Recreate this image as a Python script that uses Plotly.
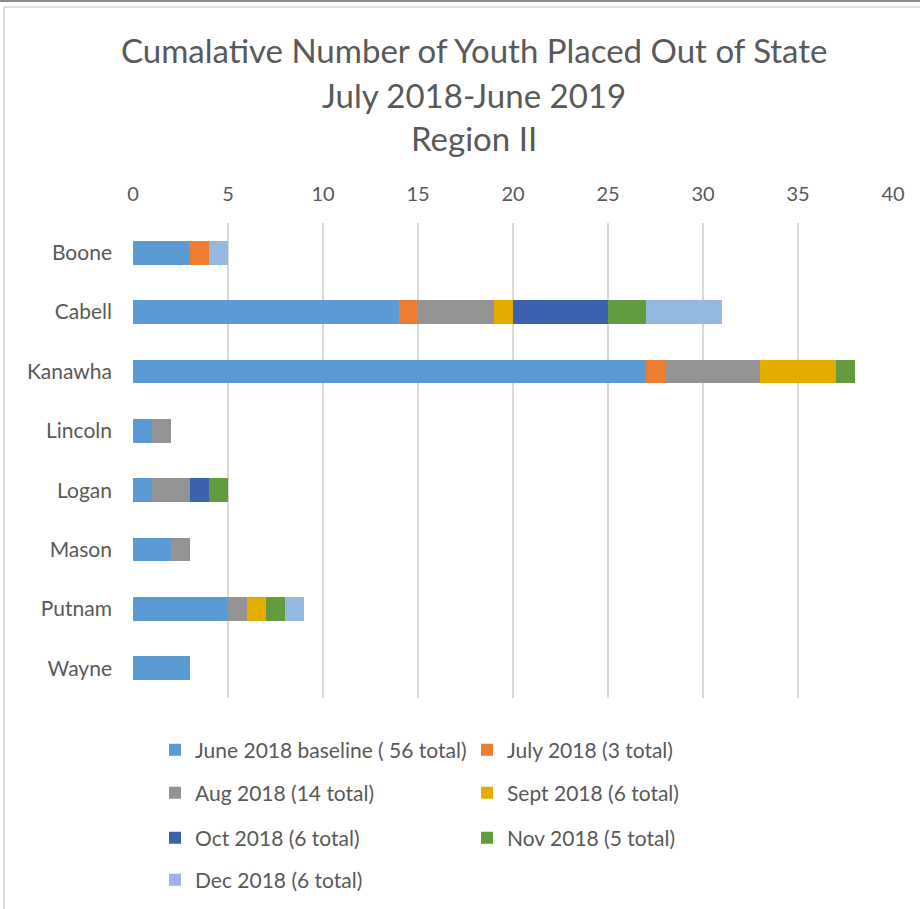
import plotly.graph_objects as go

COUNTIES = ["Boone", "Cabell", "Kanawha", "Lincoln", "Logan", "Mason", "Putnam", "Wayne"]

SERIES_NAMES = [
    "June 2018 baseline ( 56 total)",
    "July 2018 (3 total)",
    "Aug 2018 (14 total)",
    "Sept 2018 (6 total)",
    "Oct 2018 (6 total)",
    "Nov 2018 (5 total)",
    "Dec 2018 (6 total)",
]

JUNE_BASELINE = [3, 14, 27, 1, 1, 2, 5, 3]
JULY = [1, 1, 1, 0, 0, 0, 0, 0]
AUG = [0, 4, 5, 1, 2, 1, 1, 0]
SEPT = [0, 1, 4, 0, 0, 0, 1, 0]
OCT = [0, 5, 0, 0, 1, 0, 0, 0]
NOV = [0, 2, 1, 0, 1, 0, 1, 0]
DEC = [1, 4, 0, 0, 0, 0, 1, 0]

SERIES_VALUES = [JUNE_BASELINE, JULY, AUG, SEPT, OCT, NOV, DEC]
COLORS = ["#5B9BD5", "#ED7D31", "#939393", "#E5AC00", "#3B62AE", "#639B3F", "#95B8E0"]

TITLE_LINES = ["Cumalative Number of Youth Placed Out of State", "July 2018-June 2019", "Region II"]

W, H = 920, 909
L, R, T, B = 133, 27, 223, 211
FONT = "Lato, Open Sans, sans-serif"
TEXT = "#595959"


def px_x(px):
    return (px - L) / (W - L - R)


def px_y(py):
    return (H - B - py) / (H - T - B)


LEGEND_KEYS = ["legend", "legend", "legend2", "legend2", "legend3", "legend3", "legend4"]
LEGEND_ROWS = [750, 793, 838, 880]


def main():
    fig = go.Figure()
    for name, vals, color, lg in zip(SERIES_NAMES, SERIES_VALUES, COLORS, LEGEND_KEYS):
        fig.add_trace(go.Bar(
            y=COUNTIES, x=vals, name=name, orientation="h",
            marker=dict(color=color, line=dict(width=0)),
            legend=lg,
        ))

    for i, line in enumerate(TITLE_LINES):
        fig.add_annotation(
            x=px_x(474), y=px_y([50, 95, 138][i]), xref="paper", yref="paper",
            text=line, showarrow=False, xanchor="center", yanchor="middle",
            font=dict(family=FONT, size=33, color=TEXT),
        )

    legend_style = dict(
        orientation="h", x=px_x(155), xanchor="left", yanchor="middle",
        entrywidth=267, entrywidthmode="pixels",
        font=dict(family=FONT, size=21, color=TEXT),
        bgcolor="rgba(0,0,0,0)", traceorder="normal",
    )
    legends = {}
    for key, row in zip(["legend", "legend2", "legend3", "legend4"], LEGEND_ROWS):
        legends[key] = dict(legend_style, y=px_y(row))

    # thin window frame like the screenshot
    fig.add_shape(type="line", xref="paper", yref="paper",
                  x0=px_x(0), x1=px_x(W), y0=px_y(1), y1=px_y(1),
                  line=dict(color="#8C8C8C", width=2))
    fig.add_shape(type="line", xref="paper", yref="paper",
                  x0=px_x(4), x1=px_x(4), y0=px_y(7), y1=px_y(H),
                  line=dict(color="#D4D4D4", width=1.5))
    fig.add_shape(type="line", xref="paper", yref="paper",
                  x0=px_x(4), x1=px_x(W), y0=px_y(7), y1=px_y(7),
                  line=dict(color="#D4D4D4", width=1.5))

    fig.update_layout(
        width=W, height=H,
        barmode="stack", bargap=0.6,
        plot_bgcolor="white", paper_bgcolor="white",
        margin=dict(l=L, r=R, t=T, b=B, autoexpand=False),
        xaxis=dict(
            side="top", range=[0, 40], dtick=5, tick0=0,
            showgrid=True, gridcolor="#D9D9D9", gridwidth=1.5,
            zeroline=False, showline=False,
            tickfont=dict(family=FONT, size=20, color=TEXT),
            ticklabelstandoff=17,
        ),
        yaxis=dict(
            categoryorder="array", categoryarray=COUNTIES,
            autorange="reversed", showgrid=False, zeroline=False, showline=False,
            tickfont=dict(family=FONT, size=21, color=TEXT),
            ticklabelstandoff=20,
        ),
        showlegend=True,
        **legends,
    )

    # the page body has an 8px default margin; drop it so the figure fills the window
    fig.write_html("out.html", config={"displayModeBar": False},
                   post_script="document.body.style.margin='0px';")


if __name__ == "__main__":
    main()
